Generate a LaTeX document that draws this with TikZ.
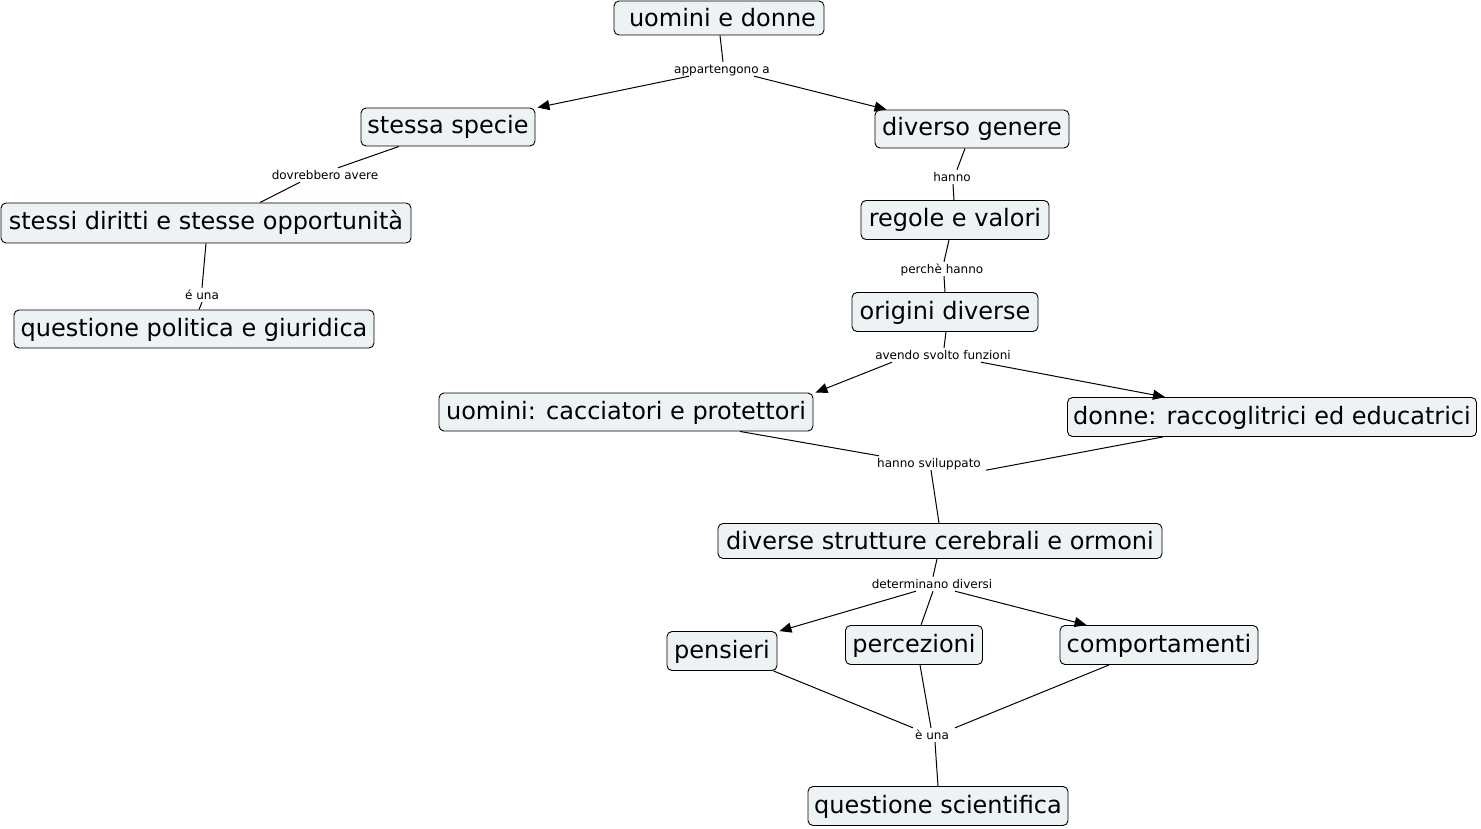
\documentclass[tikz,border=0pt]{standalone}
\usepackage{fontspec}
\setmainfont{DejaVu Sans}
\usetikzlibrary{arrows.meta,calc}
\definecolor{cfill}{RGB}{237,243,245}
\begin{document}
\begin{tikzpicture}[x=1pt,y=-1pt,
 concept/.style={draw=black, fill=cfill, rounded corners=5pt, line width=0.9pt, font=\fontsize{24}{28}\selectfont, text height=19pt, text depth=5pt, inner sep=0pt, align=center},
 lbl/.style={font=\fontsize{12}{14}\selectfont, inner sep=1pt, text height=10.5pt, text depth=1.5pt},
 conn/.style={line width=1pt, draw=black},
 arr/.style={conn, -{Triangle[length=12pt,width=10pt]}}]
\useasboundingbox (0,0) rectangle (1481,829);
% concepts
\node[concept, minimum width=210pt, minimum height=34pt, text height=21pt, text depth=3pt] (ud) at (719,18) {\hspace*{7pt}uomini e donne};
\node[concept, minimum width=174pt, minimum height=38pt] (ss) at (448,127) {stessa specie};
\node[concept, minimum width=194pt, minimum height=38pt] (dg) at (972,129) {diverso genere};
\node[concept, minimum width=410pt, minimum height=40pt] (sd) at (206,223) {stessi diritti e stesse opportunità};
\node[concept, minimum width=360pt, minimum height=38pt] (qp) at (194,329) {questione politica e giuridica};
\node[concept, minimum width=188pt, minimum height=39pt] (rv) at (955,220) {regole e valori};
\node[concept, minimum width=186pt, minimum height=39pt] (od) at (945,312) {origini diverse};
\node[concept, minimum width=374pt, minimum height=38pt] (uc) at (626,412) {uomini: cacciatori e protettori};
\node[concept, minimum width=409pt, minimum height=39pt] (dr) at (1272,417) {donne: raccoglitrici ed educatrici};
\node[concept, minimum width=444pt, minimum height=35pt, text height=20pt, text depth=4pt] (dsc) at (940,541) {diverse strutture cerebrali e ormoni};
\node[concept, minimum width=110pt, minimum height=39pt] (pe) at (722,651) {pensieri};
\node[concept, minimum width=137pt, minimum height=39pt] (pc) at (914,645) {percezioni};
\node[concept, minimum width=198pt, minimum height=39pt] (co) at (1159,645) {comportamenti};
\node[concept, minimum width=260pt, minimum height=39pt] (qs) at (938,806) {questione scientifica};
% linking phrases
\node[lbl] (l1) at (722,69) {appartengono a};
\node[lbl] (l2) at (325,175) {dovrebbero avere};
\node[lbl] (l3) at (952,177) {hanno};
\node[lbl] (l4) at (202,295) {é una};
\node[lbl] (l5) at (942,269) {perchè hanno};
\node[lbl] (l6) at (943,355) {avendo svolto funzioni};
\node[lbl] (l7) at (929,463) {hanno sviluppato};
\node[lbl] (l8) at (932,584) {determinano diversi};
\node[lbl] (l9) at (932,735) {è una};
% connectors
\draw[conn] ($(ud.south)+(1,0)$) -- ($(l1.north)+(1,0)$);
\draw[arr] ($(l1.south west)+(16,0)$) -- ($(ss.north east)+(2,0)$);
\draw[arr] ($(l1.south east)+(-17,0)$) -- ($(dg.north west)+(12,0)$);
\draw[conn] ($(ss.south)+(-49,0)$) -- ($(l2.north)+(13,0)$);
\draw[conn] ($(l2.south)+(-25,0)$) -- ($(sd.north)+(54,0)$);
\draw[conn] (sd.south) -- (l4.north);
\draw[conn] (l4.south) -- ($(qp.north)+(5,0)$);
\draw[conn] ($(dg.south)+(-7,0)$) -- ($(l3.north)+(5,0)$);
\draw[conn] ($(l3.south)+(1,0)$) -- ($(rv.north)+(-1,0)$);
\draw[conn] ($(rv.south)+(-6,0)$) -- ($(l5.north)+(2,0)$);
\draw[conn] ($(l5.south)+(2,0)$) -- (od.north);
\draw[conn] ($(od.south)+(1,0)$) -- ($(l6.north)+(1,0)$);
\draw[arr] ($(l6.south west)+(18,0)$) -- ($(uc.north east)+(2,0)$);
\draw[arr] ($(l6.south east)+(-31,0)$) -- ($(dr.north)+(-107,0)$);
\draw[conn] ($(uc.south)+(114,0)$) -- ($(l7.north west)+(3,0)$);
\draw[conn] ($(dr.south)+(-109,0)$) -- ($(l7.south east)+(4,0)$);
\draw[conn] ($(l7.south)+(2,0)$) -- ($(dsc.north)+(-1,0)$);
\draw[conn] ($(dsc.south)+(-3,0)$) -- ($(l8.north)+(1,0)$);
\draw[arr] ($(l8.south)+(-16,0)$) -- ($(pe.north east)+(2,0)$);
\draw[conn] ($(l8.south)+(1,0)$) -- ($(pc.north)+(7,0)$);
\draw[arr] ($(l8.south)+(23,0)$) -- ($(co.north west)+(27,0)$);
\draw[conn] ($(pe.south east)+(-4,0)$) -- ($(l9.north west)+(-1,0)$);
\draw[conn] ($(pc.south)+(6,0)$) -- ($(l9.north)+(-1,0)$);
\draw[conn] ($(co.south)+(-50,0)$) -- ($(l9.north east)+(5,0)$);
\draw[conn] ($(l9.south)+(3,0)$) -- (qs.north);
\end{tikzpicture}
\end{document}
